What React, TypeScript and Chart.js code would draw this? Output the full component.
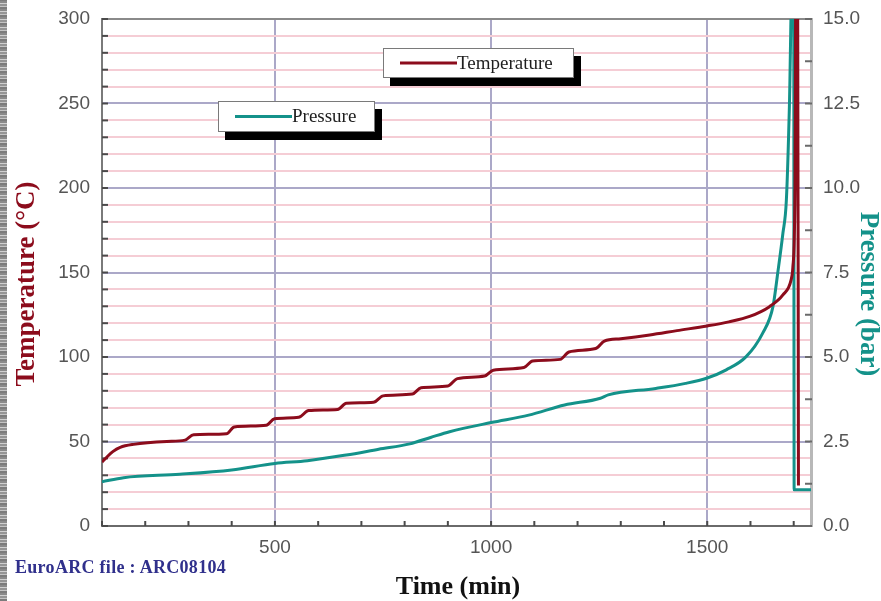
import React, { useEffect, useRef } from 'react';
import { Chart, registerables } from 'chart.js';

Chart.register(...registerables);

// Temperature record (time in min, temperature in °C)
const tempTime = [100, 112, 125, 142, 173, 250, 292, 312, 388, 406, 480, 499, 555, 578, 645, 665, 728, 750, 818, 838, 900, 922, 985, 1005, 1076, 1096, 1160, 1180, 1242, 1262, 1300, 1367, 1430, 1500, 1550, 1598, 1644, 1675, 1694, 1698, 1703, 1705, 1709, 1711];
const tempValues = [37.8, 41, 44, 46.5, 48.3, 50, 50.8, 54, 54.6, 58.6, 59.6, 63.4, 64.3, 68.3, 69, 72.6, 73.2, 77, 78.1, 81.8, 82.8, 87.2, 88.7, 92.2, 93.8, 97.7, 98.6, 103, 105, 109.4, 110.8, 113, 115.6, 118.4, 120.8, 124, 129.8, 136.7, 145.6, 153, 200, 330, 330, 24];

// Pressure record (time in min, pressure in bar)
const pressTime = [100, 150, 280, 400, 500, 575, 665, 740, 812, 860, 904, 1000, 1087, 1170, 1253, 1271, 1381, 1450, 1500, 1544, 1590, 1628, 1652, 1663, 1675, 1683, 1690, 1696, 1700, 1701, 1740];
const pressValues = [1.31, 1.43, 1.53, 1.66, 1.85, 1.93, 2.1, 2.27, 2.43, 2.62, 2.79, 3.06, 3.28, 3.58, 3.78, 3.88, 4.07, 4.22, 4.38, 4.62, 5.01, 5.7, 6.49, 7.48, 8.66, 9.64, 12.4, 16, 16, 1.07, 1.07];

const seriesLabels = ['Temperature', 'Pressure'];
const xTitle = 'Time (min)';
const yTitle = 'Temperature (°C)';
const y1Title = 'Pressure (bar)';
const fileNote = 'EuroARC file : ARC08104';

const TEMP_COLOR = '#8c0c1c';
const PRESS_COLOR = '#14928a';
const MAJOR_GRID = '#aba8c8';
const MINOR_GRID = '#f5cdd5';
const TICK_FONT = { family: '"Liberation Sans", Arial, sans-serif', size: 19 };

const line = (ctx: CanvasRenderingContext2D, x1: number, y1: number, x2: number, y2: number) => {
  ctx.beginPath();
  ctx.moveTo(x1, y1);
  ctx.lineTo(x2, y2);
  ctx.stroke();
};

// top frame line and inward tick marks
const framePlugin = {
  id: 'frameTicks',
  beforeDatasetsDraw(chart: any) {
    const { ctx, chartArea: a, scales } = chart;
    ctx.save();
    ctx.strokeStyle = '#8a8a8a';
    ctx.lineWidth = 2;
    line(ctx, a.left, a.top, a.right, a.top);
    ctx.strokeStyle = '#4a4a4a';
    ctx.lineWidth = 2;
    scales.y.ticks.forEach((t: any) => {
      const y = scales.y.getPixelForValue(t.value);
      line(ctx, a.left, y, a.left + 6, y);
    });
    scales.x.ticks.forEach((t: any) => {
      const x = scales.x.getPixelForValue(t.value);
      line(ctx, x, a.bottom, x, a.bottom - 5);
    });
    ctx.strokeStyle = '#6a6a6a';
    scales.y1.ticks.forEach((t: any) => {
      const y = scales.y1.getPixelForValue(t.value);
      line(ctx, a.right - 6, y, a.right + 1, y);
    });
    ctx.restore();
  },
};

// boxed legends with drop shadows and the axis titles
const legendBoxes = [
  { index: 0, x: 383, y: 48, w: 191, h: 30 },
  { index: 1, x: 218, y: 101, w: 157, h: 31 },
];

const overlayPlugin = {
  id: 'overlay',
  afterDraw(chart: any) {
    const { ctx } = chart;
    ctx.save();
    legendBoxes.forEach((b) => {
      const ds = chart.data.datasets[b.index];
      ctx.fillStyle = '#000';
      ctx.fillRect(b.x + 7, b.y + 8, b.w, b.h);
      ctx.fillStyle = '#fff';
      ctx.fillRect(b.x, b.y, b.w, b.h);
      ctx.strokeStyle = '#7a7a7a';
      ctx.lineWidth = 1;
      ctx.strokeRect(b.x + 0.5, b.y + 0.5, b.w - 1, b.h - 1);
      const cy = b.y + b.h / 2;
      ctx.strokeStyle = ds.borderColor;
      ctx.lineWidth = 3;
      line(ctx, b.x + 17, cy, b.x + 74, cy);
      ctx.fillStyle = '#1e1e1e';
      ctx.font = '19px "Liberation Serif", "Times New Roman", serif';
      ctx.textAlign = 'left';
      ctx.textBaseline = 'middle';
      ctx.fillText(ds.label, b.x + 74, cy + 1);
    });

    const titleFont = 'bold 27px "Liberation Serif", "Times New Roman", serif';
    ctx.font = titleFont;
    ctx.textAlign = 'center';
    ctx.textBaseline = 'middle';

    ctx.save();
    ctx.translate(27, 284);
    ctx.rotate(-Math.PI / 2);
    ctx.fillStyle = TEMP_COLOR;
    ctx.fillText(yTitle, 0, 0);
    ctx.restore();

    ctx.save();
    ctx.translate(868, 294);
    ctx.rotate(Math.PI / 2);
    ctx.fillStyle = PRESS_COLOR;
    ctx.fillText(y1Title, 0, 0);
    ctx.restore();

    ctx.font = 'bold 26px "Liberation Serif", "Times New Roman", serif';
    ctx.fillStyle = '#111';
    ctx.fillText(xTitle, 458, 587);
    ctx.restore();
  },
};

export default function App() {
  const canvasRef = useRef<HTMLCanvasElement | null>(null);

  useEffect(() => {
    if (!canvasRef.current) return;
    const chart = new Chart(canvasRef.current, {
      type: 'line',
      data: {
        datasets: [
          {
            label: seriesLabels[0],
            data: tempTime.map((t, i) => ({ x: t, y: tempValues[i] })),
            borderColor: TEMP_COLOR,
            backgroundColor: TEMP_COLOR,
            borderWidth: 3,
            pointRadius: 0,
            cubicInterpolationMode: 'monotone',
            yAxisID: 'y',
          },
          {
            label: seriesLabels[1],
            data: pressTime.map((t, i) => ({ x: t, y: pressValues[i] })),
            borderColor: PRESS_COLOR,
            backgroundColor: PRESS_COLOR,
            borderWidth: 3,
            pointRadius: 0,
            cubicInterpolationMode: 'monotone',
            yAxisID: 'y1',
          },
        ],
      },
      options: {
        responsive: false,
        animation: false,
        events: [],
        layout: { padding: { left: 0, right: 0, top: 19, bottom: 0 } },
        plugins: { legend: { display: false }, tooltip: { enabled: false } },
        scales: {
          x: {
            type: 'linear',
            min: 100,
            max: 1740,
            ticks: {
              stepSize: 100,
              includeBounds: false,
              autoSkip: false,
              maxRotation: 0,
              padding: 10,
              color: '#555',
              font: TICK_FONT,
              callback: (v: any) => (Number(v) % 500 === 0 ? String(v) : ''),
            },
            grid: {
              drawTicks: false,
              lineWidth: 2,
              color: (c: any) => (c.tick && c.tick.value % 500 === 0 ? MAJOR_GRID : 'rgba(0,0,0,0)'),
            },
            border: { color: '#6a6a6a', width: 2 },
            afterFit: (s: any) => {
              s.height = 75;
              s.paddingLeft = 0;
              s.paddingRight = 0;
            },
          },
          y: {
            type: 'linear',
            position: 'left',
            min: 0,
            max: 300,
            ticks: {
              stepSize: 10,
              autoSkip: false,
              padding: 12,
              color: '#555',
              font: TICK_FONT,
              callback: (v: any) => (Number(v) % 50 === 0 ? String(v) : ''),
            },
            grid: {
              drawTicks: false,
              lineWidth: 2,
              color: (c: any) => (c.tick && c.tick.value % 50 === 0 ? MAJOR_GRID : MINOR_GRID),
            },
            border: { color: '#7a7a7a', width: 2 },
            afterFit: (s: any) => {
              s.width = 102;
              s.paddingTop = 0;
              s.paddingBottom = 0;
            },
          },
          y1: {
            type: 'linear',
            position: 'right',
            min: 0,
            max: 15,
            ticks: {
              stepSize: 1.25,
              autoSkip: false,
              padding: 12,
              color: '#555',
              font: TICK_FONT,
              callback: (v: any) => (Number(v) % 2.5 === 0 ? Number(v).toFixed(1) : ''),
            },
            grid: { drawOnChartArea: false, drawTicks: false },
            border: { color: '#b8b8b8', width: 3 },
            afterFit: (s: any) => {
              s.width = 70;
              s.paddingTop = 0;
              s.paddingBottom = 0;
            },
          },
        },
      },
      plugins: [framePlugin, overlayPlugin],
    } as any);
    return () => chart.destroy();
  }, []);

  return (
    <div style={{ position: 'absolute', left: 0, top: 0, width: 881, height: 601, background: '#fff', overflow: 'hidden' }}>
      <canvas ref={canvasRef} width={881} height={601} style={{ display: 'block' }} />
      <div
        style={{
          position: 'absolute',
          left: 0,
          top: 0,
          width: 7,
          height: 601,
          background: '#a2a2a2',
          backgroundImage:
            'repeating-linear-gradient(0deg, #7c7c7c 0px, #7c7c7c 2px, #c4c4c4 2px, #c4c4c4 3px, #959595 3px, #959595 5px, #d0d0d0 5px, #d0d0d0 6px, #8a8a8a 6px, #8a8a8a 8px)',
        }}
      />
      <div
        style={{
          position: 'absolute',
          left: 15,
          top: 557,
          font: 'bold 18px "Liberation Serif", "Times New Roman", serif',
          letterSpacing: '0.3px',
          color: '#30308c',
          whiteSpace: 'nowrap',
        }}
      >
        {fileNote}
      </div>
    </div>
  );
}
